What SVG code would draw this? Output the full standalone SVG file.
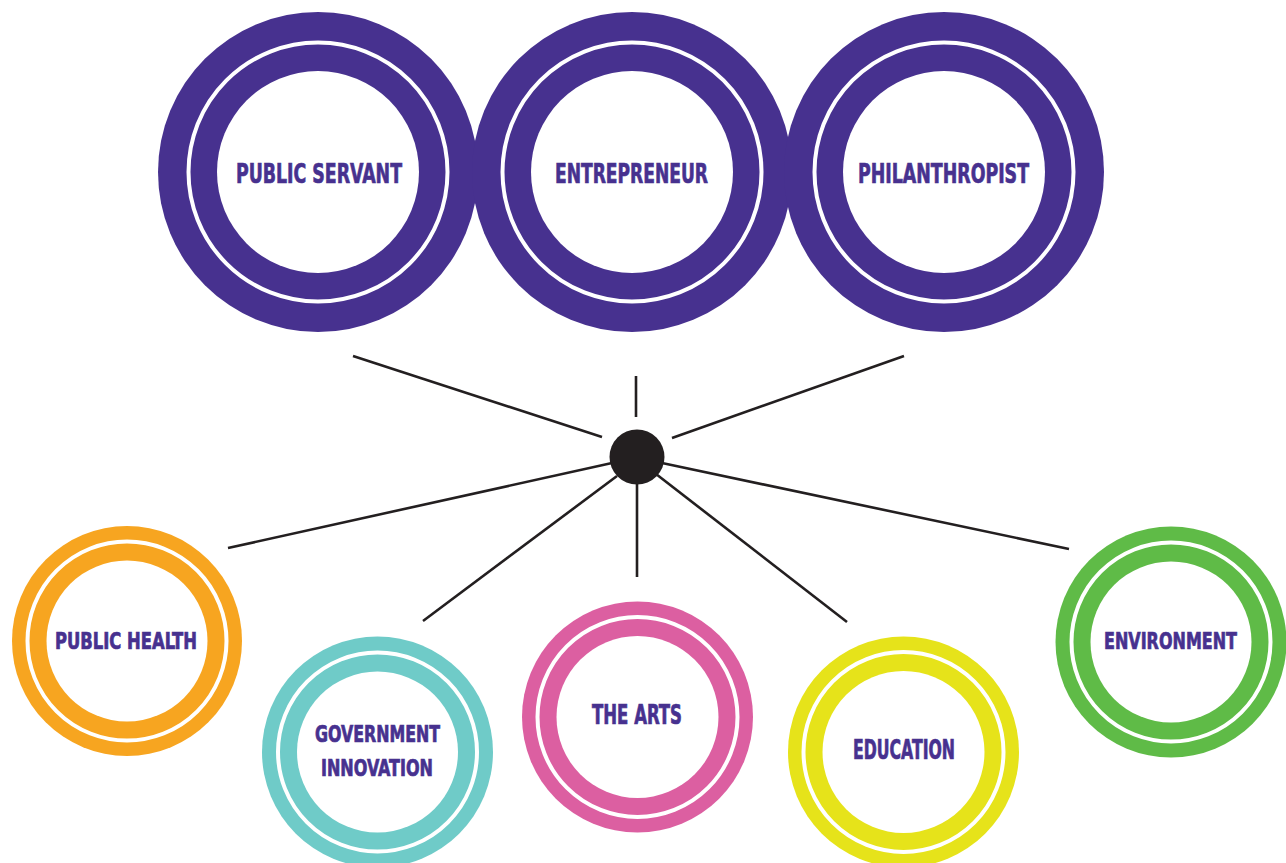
<svg xmlns="http://www.w3.org/2000/svg" width="1286" height="863" viewBox="0 0 1286 863">
<style>
.bg{fill:#ffffff}
.ring{fill:none;stroke:#ffffff;stroke-width:4}
.disc{fill:#ffffff}
.lbl{font-family:"DejaVu Sans Condensed","DejaVu Sans","Liberation Sans",sans-serif;font-stretch:condensed;font-weight:bold;fill:#47318f;stroke:#47318f;stroke-width:0.7;text-anchor:middle}
.big{font-size:27px}
.mid{font-size:26px}
.sm{font-size:23px}
.conn line{stroke:#231f20;stroke-width:2.6;stroke-linecap:butt}
</style>
<rect class="bg" x="0" y="0" width="1286" height="863"/>
<g id="public-servant">
<circle cx="318" cy="172" r="160" fill="#47318f"/>
<circle class="ring" cx="318" cy="172" r="129.5"/>
<circle class="disc" cx="318" cy="172" r="101"/>
<text class="lbl big" x="319" y="183" textLength="166" lengthAdjust="spacingAndGlyphs">PUBLIC SERVANT</text>
</g>
<g id="entrepreneur">
<circle cx="632" cy="172" r="160" fill="#47318f"/>
<circle class="ring" cx="632" cy="172" r="129.5"/>
<circle class="disc" cx="632" cy="172" r="101"/>
<text class="lbl big" x="631.5" y="183" textLength="153" lengthAdjust="spacingAndGlyphs">ENTREPRENEUR</text>
</g>
<g id="philanthropist">
<circle cx="944" cy="172" r="160" fill="#47318f"/>
<circle class="ring" cx="944" cy="172" r="129.5"/>
<circle class="disc" cx="944" cy="172" r="101"/>
<text class="lbl big" x="943.5" y="183" textLength="171" lengthAdjust="spacingAndGlyphs">PHILANTHROPIST</text>
</g>
<g id="connectors" class="conn">
<line x1="353" y1="356" x2="602" y2="437"/>
<line x1="636" y1="376" x2="636" y2="417"/>
<line x1="672" y1="438" x2="904" y2="356"/>
<line x1="612" y1="463" x2="228" y2="548"/>
<line x1="617" y1="476" x2="423" y2="621"/>
<line x1="637" y1="480" x2="637" y2="577"/>
<line x1="656" y1="474" x2="847" y2="622"/>
<line x1="662" y1="463" x2="1069" y2="549"/>
</g>
<g id="hub">
<circle cx="637" cy="457" r="27.5" fill="#231f20"/>
</g>
<g id="public-health">
<circle cx="127" cy="641" r="115" fill="#f7a520"/>
<circle class="ring" cx="127" cy="641" r="99.5"/>
<circle class="disc" cx="127" cy="641" r="80.5"/>
<text class="lbl sm" x="126" y="648.5" textLength="142" lengthAdjust="spacingAndGlyphs">PUBLIC HEALTH</text>
</g>
<g id="government-innovation">
<circle cx="377.5" cy="752" r="115.5" fill="#6fcbc8"/>
<circle class="ring" cx="377.5" cy="752" r="99.5"/>
<circle class="disc" cx="377.5" cy="752" r="80.5"/>
<text class="lbl sm" x="377.5" y="742" textLength="125" lengthAdjust="spacingAndGlyphs">GOVERNMENT</text>
<text class="lbl sm" x="377" y="776" textLength="112" lengthAdjust="spacingAndGlyphs">INNOVATION</text>
</g>
<g id="the-arts">
<circle cx="637.5" cy="717" r="115.5" fill="#dc5fa1"/>
<circle class="ring" cx="637.5" cy="717" r="100"/>
<circle class="disc" cx="637.5" cy="717" r="81"/>
<text class="lbl mid" x="637" y="724" textLength="90" lengthAdjust="spacingAndGlyphs">THE ARTS</text>
</g>
<g id="education">
<circle cx="903.5" cy="752" r="115.5" fill="#e6e31a"/>
<circle class="ring" cx="903.5" cy="752" r="100"/>
<circle class="disc" cx="903.5" cy="752" r="81"/>
<text class="lbl mid" x="904" y="759" textLength="102" lengthAdjust="spacingAndGlyphs">EDUCATION</text>
</g>
<g id="environment">
<circle cx="1171" cy="642" r="115.5" fill="#5fbb47"/>
<circle class="ring" cx="1171" cy="642" r="99.5"/>
<circle class="disc" cx="1171" cy="642" r="80.5"/>
<text class="lbl sm" x="1170.5" y="648.5" textLength="133" lengthAdjust="spacingAndGlyphs">ENVIRONMENT</text>
</g>
</svg>
